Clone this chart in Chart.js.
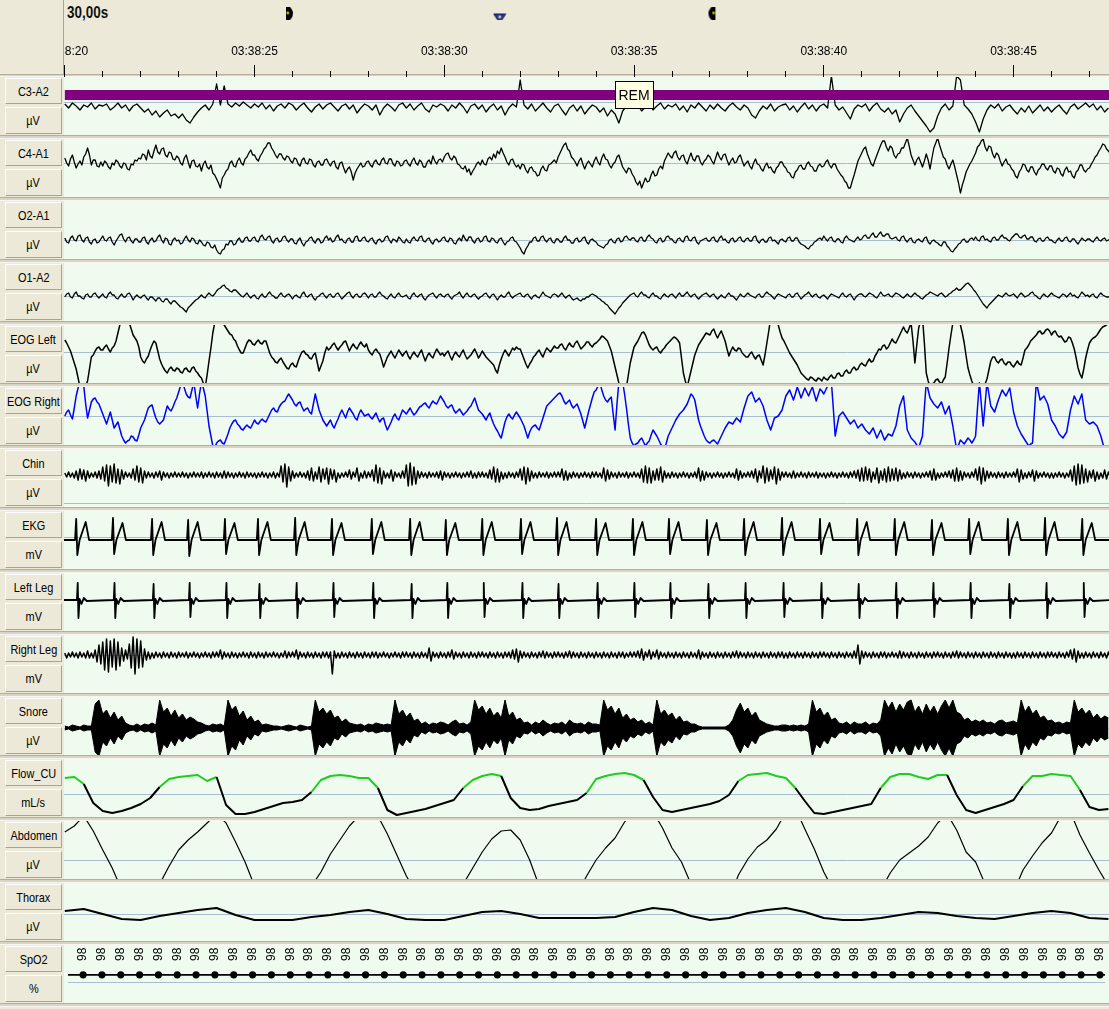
<!DOCTYPE html>
<html>
<head>
<meta charset="utf-8">
<title>PSG 30 s page</title>
<script src="https://cdn.jsdelivr.net/npm/chart.js@4.4.1/dist/chart.umd.min.js"></script>
<style>
  html, body { margin: 0; padding: 0; }
  body {
    width: 1109px; height: 1009px; overflow: hidden; position: relative;
    background: #ECE9D8;
    font-family: 'Liberation Sans', Arial, sans-serif;
  }
  .box {
    position: absolute; left: 5px; width: 57px; box-sizing: border-box;
    background: #ECE9D8; border: 1px solid; border-color: #FFFFFF #A7A391 #A7A391 #FFFFFF;
    font-size: 13px; color: #000; display: flex; align-items: center; justify-content: center;
    white-space: nowrap; overflow: hidden;
  }
  .box span { display: inline-block; transform: scaleX(0.84); }
  .sep {
    position: absolute; left: 0; width: 1109px; height: 4px; box-sizing: border-box;
    background: #D9D5C5; border-top: 1px solid #B3AF9F; border-bottom: 1px solid #F7F5EE;
  }
  .vline { position: absolute; left: 63px; top: 0; width: 1px; height: 77px; background: #A9A594; }
  #epoch {
    position: absolute; left: 67px; top: 4px; font-weight: bold; font-size: 16px; color: #111;
    transform: scaleX(0.84); transform-origin: left center;
  }
</style>
</head>
<body>
<div id="epoch"></div>
<div class="vline"></div>
<script>
// ---------------- time base ----------------
const X_MIN = -0.021;                 // seconds after 03:38:20 at the left edge of the traces
const X_MAX = 27.515;                 // seconds at the right edge
const EPOCH_LABEL = '30,00s';
const TICK_SECONDS = [0,1,2,3,4,5,6,7,8,9,10,11,12,13,14,15,16,17,18,19,20,21,22,23,24,25,26,27];
const CLOCK_LABELS = ['03:38:20','03:38:25','03:38:30','03:38:35','03:38:40','03:38:45'];
const CURSOR_TIMES = [5.80, 11.43, 17.11];   // page cursors: start mark, current, end mark

// hypnogram stage for this epoch
const STAGE_EPOCH = { start: 0, end: 30, stage: 'REM' };

// ---------------- EEG (µV) ----------------
const C3_DT = 0.1;
const c3a2 = [
  -2,-6,-1,-4,-8,-3,-5,-1,-7,-3, -4,-2,-8,-5,-1,-6,-3,-9,-4,-2, -6,-10,-7,-13,-9,-15,-11,-8,-14,-12,
  -16,-12,-18,-21,-15,-10,-6,-3,-8,-2, 18,-3,16,-2,-5,-1,-4,0,-3,-6, -2,-5,-1,-7,-3,-9,-4,-2,-6,-1,
  -3,-8,-4,-1,-6,-10,-5,-2,-7,-3, -1,-5,-9,-4,-2,-7,-3,-11,-6,-2, -4,-8,-3,-13,-6,-2,-5,-9,-3,-1,
  -6,-2,-8,-4,-1,-7,-10,-3,-5,-2, -4,-9,-3,-6,-1,-5,-11,-4,-2,-7, -3,-10,-5,-2,-8,-4,-13,-6,-2,-5,
  22,-3,-7,-2,-9,-5,-1,-6,-10,-4, -2,-8,-13,-6,-3,-9,-4,-12,-7,-3, -5,-10,-6,-14,-8,-12,-21,-9,-4,-2,
  -6,-3,-9,-5,-2,-8,-4,-1,-7,-3, -5,-2,-8,-4,-10,-3,-6,-1,-5,-9, -3,-7,-2,-6,-9,-4,-1,-5,-8,-3,
  -6,-13,-16,-9,-4,-7,-2,-9,-5,-3, -2,-8,-4,-10,-5,-1,-7,-3,-9,-4, -2,-6,26,-3,-8,-5,-11,-17,-7,-3,
  -5,-2,-9,-4,-1,-7,-10,-6,-12,-8, -20,-12,-6,-3,-9,-14,-19,-24,-30,-26, -14,-6,-2,-8,-4,26,22,-3,-7,-12,
  -20,-30,-17,-8,-3,-6,-2,-9,-5,-3, -8,-12,-6,-10,-4,-11,-7,-3,-9,-5, -10,-6,-3,-8,-12,-5,-2,-7,-4,-1,
  -5,-2,-8,-4,-10,-6
];
const FAST_DT = 0.05;
const c4a1 = [
  5,0,-3,4,8,1,-5,-1,2,-2,6,9,15,8,-2,3,3,-3,-4,1,
  -3,2,0,-4,-6,0,-2,3,1,-3,-5,0,-1,-6,-7,-1,-2,3,2,5,
  4,9,8,3,13,7,5,12,18,11,9,14,15,8,6,11,10,4,3,7,
  5,0,-2,5,8,1,-5,2,3,-3,-4,-1,-8,-1,2,-4,-6,-2,-10,-12,
  -16,-20,-25,-15,-12,-8,-6,0,2,-3,-4,2,5,0,-2,4,6,10,13,8,
  8,4,2,7,10,14,16,20,20,15,12,8,5,9,9,5,3,7,6,2,
  0,5,4,-1,-3,3,5,0,-1,4,3,-2,-4,1,2,-2,-2,3,4,0,
  -3,1,2,-4,-6,0,1,-5,-10,-6,-4,-9,-17,-10,-6,-3,0,-4,-3,1,
  2,-2,-4,1,3,-1,-2,3,5,0,-1,4,4,-1,-3,2,1,-3,-2,2,
  3,-1,-3,2,5,0,-2,3,1,-4,-4,1,3,-1,7,2,-1,3,4,1,
  6,9,10,5,3,7,5,-1,-2,-5,-6,-3,-9,-6,-12,-8,-5,-1,1,-2,
  3,-1,-2,4,6,3,9,5,12,9,15,10,6,1,-2,3,4,-1,-4,-2,
  -6,-1,-2,-7,-10,-5,-4,-8,-9,-13,-12,-6,-3,-7,-8,-2,-1,1,3,0,
  6,10,14,18,20,14,12,6,4,1,-3,2,5,-1,-6,-1,2,-1,-4,2,
  6,1,-2,5,9,4,3,-2,-5,-1,1,6,8,2,-4,-7,-10,-5,-6,-11,
  -14,-19,-22,-18,-25,-20,-15,-19,-18,-12,-8,-13,-12,-6,-3,-6,2,6,10,7,
  5,10,12,6,3,7,8,2,-1,5,10,4,2,7,7,1,-2,2,4,8,
  6,2,-1,5,11,6,3,8,9,3,-2,2,5,0,1,6,8,2,-3,0,
  2,-3,-6,0,4,-1,-2,-6,-8,-3,0,-5,-4,-8,-10,-5,-3,1,1,-3,
  -5,-9,-10,-14,-15,-9,-7,-3,-2,-6,-6,-1,1,-3,-4,-8,-8,-3,-1,-4,
  -3,1,3,-2,-5,-1,-1,-6,-9,-12,-14,-18,-20,-25,-25,-18,-12,-5,2,6,
  10,14,16,9,4,-1,-3,3,8,13,18,22,22,16,12,17,15,8,5,9,
  10,15,15,20,25,17,8,3,-2,3,6,1,-4,2,9,3,-6,5,15,20,
  25,18,12,6,4,-2,-6,-1,3,-4,-12,-20,-30,-22,-16,-9,-5,-1,2,6,
  10,16,18,22,24,16,12,17,16,9,5,10,8,2,-3,1,4,-1,-2,-6,
  -8,-13,-15,-9,-6,-1,-2,-7,-9,-4,-4,-9,-12,-7,-5,-1,-1,-5,-7,-3,
  -3,-8,-10,-5,-6,-11,-13,-7,-4,-9,-8,-13,-15,-9,-7,-2,-2,-7,-9,-6,
  -5,-1,2,6,8,12,15,19,18,14,12,9
];
const o2a1 = [
  2,-2,-3,2,4,0,-1,4,5,0,-2,2,3,-2,-4,0,1,-3,-2,1,
  4,0,-1,2,3,-2,-5,-1,2,5,6,1,-2,2,3,-1,-3,1,1,-2,
  -2,2,3,-2,-4,0,2,-2,-1,3,5,0,-3,2,1,-4,-5,0,2,-1,
  0,-4,-3,1,4,0,-2,2,1,-3,-4,0,-2,-5,-6,-2,-3,-7,-8,-5,
  -10,-13,-14,-10,-9,-4,-5,-1,-1,-5,-4,0,2,-2,-2,2,3,-1,-1,2,
  3,-1,-2,3,5,1,0,3,4,-1,-3,1,2,-2,-1,3,4,0,-2,1,
  1,-3,-4,0,2,-3,-6,-2,-1,2,3,-1,-3,1,1,-3,-2,2,4,0,
  2,-2,-1,3,5,0,1,-2,-3,1,2,-2,-2,3,4,-1,-1,2,3,-1,
  -2,1,2,-2,-4,0,1,-2,-1,3,4,0,-3,1,0,-2,3,1,-2,-3,
  1,-2,-3,1,3,0,-1,3,4,-1,-2,1,2,-2,-4,0,1,-2,-1,2,
  3,-1,-2,2,1,-3,-4,0,2,-1,5,1,-1,3,3,-1,-3,1,2,-2,
  -1,3,4,-1,-2,2,1,-2,-3,1,2,-2,-5,-2,-1,2,3,-1,-2,-5,
  -8,-12,-14,-9,-6,-2,-2,2,3,-1,-1,3,4,0,-2,1,2,-2,-3,1,
  1,-2,-2,2,4,0,0,-3,-3,1,2,-2,-1,2,3,-2,-4,0,1,-1,
  -2,-5,-6,-7,-8,-5,-4,0,1,-2,-3,1,2,-2,-1,3,4,1,0,2,
  2,-1,-2,2,3,-1,-1,3,5,2,1,-2,-3,1,2,-2,-1,3,4,1,
  1,-2,-3,1,2,-1,-2,3,4,0,-1,2,3,-2,-4,-1,0,1,2,-1,
  -1,2,3,-1,-2,2,4,0,1,-2,-3,1,2,-2,-1,2,3,-1,-2,1,
  2,-1,-1,3,4,-1,-3,0,1,-2,-2,2,3,-1,0,-2,-4,0,1,-1,
  -2,2,3,-1,-1,2,2,-2,-4,-5,-6,-8,-9,-6,-5,-2,-1,1,2,0,
  4,1,-1,2,3,-1,-2,1,1,-2,-3,2,4,1,0,-1,-2,1,3,0,
  1,4,5,2,2,5,7,3,3,6,8,4,4,6,6,2,1,2,3,0,
  -1,3,4,0,-2,1,2,-2,-3,0,1,-1,-2,2,3,-2,-4,-1,0,-2,
  -3,-5,-6,-2,-2,-6,-8,-11,-12,-9,-7,-4,-3,0,1,-2,-2,1,2,0,
  3,0,-1,3,4,0,1,-1,-2,2,3,0,0,3,5,2,2,0,-1,2,
  4,6,6,3,2,4,5,1,1,3,3,-1,-2,1,2,-1,-1,2,3,0,
  0,-2,-3,0,2,-1,-1,2,3,-1,-2,1,1,-2,-4,-1,2,0,-1,1,
  1,-1,-2,1,3,0,-1,1,2,-1,0,1
];
const o1a2 = [
  -1,2,3,-1,-2,2,4,0,0,-2,-3,1,2,-1,-1,2,3,0,-2,0,
  2,-1,-2,2,4,1,1,-2,-3,0,2,-1,-1,2,3,0,-4,-1,1,-1,
  -2,0,1,-2,-4,-1,-1,-3,-5,-2,-2,-5,-6,-3,-3,-6,-8,-5,-5,-7,
  -9,-11,-12,-14,-16,-12,-10,-8,-6,-4,-3,-1,1,-1,-2,1,3,1,0,2,
  5,7,8,10,11,8,7,5,4,6,6,4,2,0,-1,1,3,0,-2,0,
  1,-2,-3,0,2,-1,-1,2,4,1,0,-2,-2,1,3,0,-1,1,2,0,
  -3,0,1,-1,-2,2,4,0,-1,1,2,-2,-4,-1,0,2,3,0,-2,1,
  2,-1,-1,2,3,0,-3,-1,1,3,4,0,-2,1,2,-1,-1,2,3,1,
  -2,1,2,-1,-1,2,4,1,0,-2,-3,0,2,-1,-2,1,3,0,-1,0,
  1,-2,-3,1,3,0,-1,1,2,-2,-4,-1,1,2,3,0,-2,1,2,0,
  -1,1,2,-1,-3,0,1,2,4,0,-2,1,3,0,-1,1,2,-1,-3,-1,
  0,2,3,0,-2,1,2,-1,-4,-1,1,-1,-1,2,4,0,-2,0,1,2,
  3,0,-1,1,2,-1,-3,0,1,-1,-2,1,4,1,0,-1,-2,1,2,1,
  -1,1,3,0,-2,0,1,-2,-4,-3,-2,-4,-5,-3,-3,-1,-1,1,2,1,
  0,-2,-3,-5,-6,-8,-9,-12,-14,-16,-18,-15,-12,-10,-7,-5,-3,-1,1,2,
  3,0,-1,2,4,1,1,-1,-2,1,3,0,0,-2,-3,0,2,0,-1,1,
  2,0,-2,1,3,0,0,2,4,1,-1,1,2,-1,-3,-1,1,2,3,1,
  -1,1,2,-1,-3,-1,1,-1,-2,1,3,0,0,-2,-4,-1,2,0,-1,1,
  3,1,0,-1,-2,1,2,-1,-1,2,4,2,1,-1,-3,0,2,1,0,-1,
  -2,1,2,-1,-1,2,3,0,-3,-1,1,2,4,1,-1,1,2,-1,-2,0,
  1,-1,-3,0,2,1,0,-1,-2,1,3,0,-1,1,2,-1,-4,-1,1,2,
  2,0,-1,1,3,2,1,-1,-2,1,4,1,0,1,2,0,-1,1,3,2,
  1,-1,-2,0,2,0,-1,1,3,1,0,-2,-3,-1,1,2,4,3,2,1,
  0,2,3,1,-1,0,2,3,5,6,8,6,6,8,10,12,13,11,9,6,
  4,1,-2,-5,-8,-10,-12,-9,-7,-5,-3,-1,1,0,-1,1,3,1,0,1,
  2,0,-2,1,3,1,-1,0,1,3,4,1,0,-2,-3,0,2,0,-1,1,
  3,1,0,-1,-2,0,2,1,-1,1,3,0,1,-1,-2,1,4,2,0,1,
  -1,1,2,-1,-2,1,3,1,0,-1,-1,0
];

// ---------------- EOG (µV) ----------------
const eogLeft = [
  13,10,6,2,-4,-10,-16,-25,-34,-38,-36,-33,-28,-16,-4,-2,2,5,6,3,
  3,6,8,4,1,5,7,12,20,28,35,38,36,33,30,24,18,15,12,6,
  -4,-8,-10,-6,-3,3,8,12,10,2,-6,-11,-15,-18,-20,-16,-14,-17,-18,-15,
  -16,-19,-20,-16,-15,-18,-19,-15,-14,-18,-20,-23,-25,-30,-34,-22,-8,5,20,30,
  36,35,33,30,28,25,22,19,18,14,12,7,3,0,0,5,10,13,12,9,
  8,11,13,10,9,12,12,6,0,-4,-6,-9,-10,-7,-5,-9,-12,-15,-16,-12,
  -10,-13,-14,-8,-3,1,2,-1,-2,-5,-6,-2,0,-9,-18,-13,-8,0,6,3,
  5,8,10,6,3,6,8,11,12,7,2,6,9,6,4,8,11,8,6,9,
  3,0,-2,2,4,1,-1,-7,-14,-9,-4,-1,2,-2,-5,-1,3,0,-3,0,
  2,-3,-6,-2,1,-2,-4,0,3,-3,-8,-3,0,-3,-5,0,4,1,-2,0,
  -3,0,2,-3,-7,-2,1,-2,-4,0,3,-2,-6,-4,-2,1,4,0,-5,-2,
  2,-1,-4,-6,-8,-10,-12,-17,-20,-12,-6,-1,3,0,-3,1,5,3,6,4,
  4,-1,-6,-11,-15,-11,-8,-4,-2,1,3,-1,-4,1,5,3,1,4,7,5,
  5,8,9,5,3,7,10,7,6,10,12,8,4,6,8,11,11,8,6,9,
  10,12,14,17,16,14,12,7,2,-6,-14,-22,-30,-34,-36,-36,-34,-22,-10,-2,
  6,9,12,16,20,21,18,13,8,5,3,5,6,2,0,3,5,8,10,12,
  14,16,15,13,10,-5,-20,-28,-34,-26,-18,-10,-2,3,8,11,14,17,20,19,
  18,22,24,19,15,19,22,17,12,4,-3,2,6,3,2,5,4,0,-2,-4,
  -4,-1,1,-3,-6,-3,-2,-7,-12,-2,10,22,35,37,36,33,28,21,15,12,
  8,4,0,-3,-6,-9,-12,-16,-20,-22,-24,-26,-27,-24,-25,-27,-28,-25,-26,-28,
  -24,-26,-27,-24,-22,-25,-25,-21,-20,-23,-23,-19,-17,-20,-20,-16,-14,-17,-16,-12,
  -10,-12,-13,-9,-6,-9,-8,-3,0,4,3,7,8,4,6,10,14,11,10,14,
  18,22,26,22,20,25,30,12,-10,8,25,32,36,10,-20,-28,-34,-31,-30,-27,
  -26,-29,-31,-27,-24,-10,5,18,30,34,36,33,28,20,10,-3,-15,-22,-28,-33,
  -36,-33,-30,-33,-34,-31,-26,-17,-8,-4,-4,-8,-10,-7,-6,-10,-12,-9,-9,-12,
  -14,-11,-8,-11,-12,-5,3,5,8,12,14,16,18,21,22,19,20,23,24,22,
  18,21,22,18,16,17,14,11,12,16,15,10,4,-5,-15,-21,-25,-16,-5,3,
  10,13,15,16,18,21,24,26,27,28,30,32
];
const eogRight = [
  0,4,6,1,-3,8,20,28,34,36,30,12,-2,6,14,17,18,14,12,7,
  2,-3,-8,-2,4,-4,-12,-9,-6,-13,-20,-24,-27,-25,-24,-20,-21,-24,-25,-19,
  -12,-8,-4,2,8,10,11,4,-2,-6,-8,-6,-4,3,10,7,5,9,14,18,
  24,30,34,28,22,19,18,26,34,20,8,22,34,28,20,5,-10,-20,-30,-32,
  -27,-25,-24,-27,-28,-23,-18,-12,-8,-5,-4,-8,-10,-13,-14,-11,-9,-11,-12,-8,
  -4,-7,-8,-5,-3,-5,-6,-2,2,6,8,5,4,9,12,14,15,19,22,19,
  16,12,10,13,14,9,5,7,8,4,2,12,22,14,6,1,-4,-7,-10,-7,
  -4,-9,-12,-7,-3,2,6,2,-2,4,8,5,2,-2,-4,2,6,3,0,1,
  2,-1,-3,0,3,-2,-6,-3,-2,-9,-14,-10,-6,-1,2,-2,-4,1,6,4,
  2,5,8,4,1,3,6,9,10,12,13,10,8,12,15,13,12,16,20,17,
  14,10,8,10,11,6,3,5,7,4,1,3,5,8,10,14,18,12,6,4,
  2,-1,-4,0,3,-3,-8,-12,-15,-19,-22,-14,-6,-1,2,-1,-3,1,4,1,
  -2,-6,-10,-16,-22,-16,-12,-10,-9,-12,-14,-8,-2,4,10,12,14,16,18,20,
  22,23,20,15,12,14,16,11,8,10,12,7,2,-5,-12,-4,4,11,18,24,
  26,30,34,26,20,16,14,17,19,2,-14,12,34,36,34,22,8,-8,-22,-27,
  -30,-28,-27,-24,-22,-26,-30,-27,-25,-19,-14,-17,-20,-24,-28,-31,-34,-27,-20,-16,
  -12,-8,-4,-1,2,4,6,9,12,17,22,20,16,6,-4,-10,-15,-20,-24,-26,
  -27,-25,-24,-26,-28,-24,-20,-16,-12,-9,-6,-7,-8,-5,-2,-4,-6,1,8,14,
  20,22,24,19,14,16,18,14,10,3,-4,-9,-14,-8,-2,-1,0,3,6,13,
  20,23,26,21,16,22,29,24,18,23,28,24,20,25,29,22,15,21,27,25,
  22,26,30,33,34,8,-20,-10,0,2,4,1,-2,-5,-8,-6,-4,-8,-12,-10,
  -8,-11,-14,-16,-18,-15,-12,-17,-22,-18,-14,-19,-24,-21,-18,-19,-20,-15,-10,0,
  10,15,20,3,-14,-18,-22,-24,-26,-29,-32,-26,-20,8,34,26,18,15,12,10,
  8,11,14,8,2,6,10,0,-10,-22,-34,-29,-24,-26,-28,-25,-22,-24,-27,-24,
  -20,8,34,12,-10,12,34,22,10,7,4,10,16,21,26,23,20,24,28,16,
  4,-3,-10,-14,-18,-21,-24,-27,-30,-28,-27,4,34,25,16,18,20,16,12,4,
  -4,-7,-10,-14,-18,-20,-22,-19,-16,-5,6,13,20,16,12,17,22,9,-4,-6,
  -8,-7,-6,-8,-10,-15,-20,-27,-34,-36,-34,-34
];

// ---------------- EMG (µV / mV), 0.05 s samples ----------------
const CHIN_LEVEL = 28;
const chin = [
  2,-2,3,-2,2,-3,4,-5,6,-4,5,-6,4,-3,2,-2,3,-3,4,-4,
  8,-6,10,-11,9,-7,11,-8,6,-9,5,-4,3,-2,2,-3,6,-5,9,-7,
  7,-8,4,-3,3,-2,2,-3,3,-2,4,-5,3,-2,2,-3,2,-2,3,-2,
  2,-2,3,-2,2,-3,2,-2,3,-2,2,-2,3,-3,2,-2,3,-2,2,-3,
  3,-2,2,-3,4,-3,3,-2,2,-3,2,-2,3,-2,2,-3,3,-2,2,-2,
  2,-3,2,-2,3,-2,2,-3,2,-2,3,-3,2,-2,9,-7,11,-12,8,-6,
  4,-3,2,-2,3,-2,2,-3,4,-5,7,-6,3,-4,8,-7,6,-4,7,-9,
  6,-4,5,-7,2,-3,2,-2,3,-2,5,-4,3,-2,7,-6,2,-3,4,-3,
  3,-2,5,-6,10,-8,7,-9,4,-3,2,-3,5,-6,3,-2,2,-3,4,-3,
  10,-11,12,-10,8,-9,4,-3,3,-2,2,-3,3,-2,2,-2,3,-3,4,-5,
  3,-2,2,-3,2,-2,3,-2,2,-3,2,-2,3,-2,4,-3,2,-3,3,-2,
  3,-2,2,-3,5,-4,8,-7,6,-7,3,-4,2,-3,3,-2,2,-3,3,-2,
  6,-5,8,-9,7,-6,4,-3,2,-3,3,-2,2,-2,3,-3,2,-2,3,-2,
  3,-2,6,-5,4,-5,2,-3,3,-2,2,-3,2,-2,3,-2,2,-3,3,-2,
  3,-2,2,-3,7,-6,5,-4,3,-2,2,-3,3,-2,2,-2,3,-3,2,-2,
  3,-2,2,-3,6,-7,9,-8,7,-8,4,-5,6,-5,8,-7,4,-3,2,-3,
  3,-2,2,-3,2,-2,3,-2,2,-3,2,-2,3,-3,7,-6,4,-5,3,-2,
  2,-3,2,-2,3,-2,2,-3,2,-2,3,-2,2,-3,6,-5,4,-3,2,-2,
  3,-2,4,-3,6,-7,4,-3,9,-8,7,-6,5,-4,8,-9,6,-5,3,-2,
  3,-2,2,-3,4,-3,2,-2,3,-2,2,-3,3,-2,2,-2,3,-3,2,-2,
  2,-3,2,-2,3,-2,2,-3,2,-2,3,-2,2,-3,3,-2,4,-3,5,-6,
  7,-6,8,-5,6,-7,3,-4,7,-8,4,-5,6,-7,8,-6,6,-5,7,-6,
  5,-4,2,-3,3,-2,2,-3,3,-2,2,-3,2,-2,3,-2,4,-5,6,-5,
  2,-3,2,-2,3,-2,4,-3,5,-6,7,-6,4,-5,3,-2,2,-3,3,-2,
  6,-5,8,-9,7,-6,4,-3,3,-2,2,-3,3,-2,2,-3,3,-2,2,-2,
  3,-2,6,-7,5,-4,2,-3,3,-2,5,-6,4,-3,2,-2,3,-2,2,-3,
  2,-3,2,-2,3,-2,2,-3,2,-2,5,-6,9,-10,11,-9,10,-8,6,-7,
  4,-3,5,-6,3,-4,2,-3,5,-4,3,-2
];
const rightLeg = [
  2,-3,2,-2,3,-2,2,-3,3,-2,2,-3,4,-3,2,-3,5,-7,10,-9,
  13,-15,16,-17,14,-12,16,-15,13,-11,7,-6,5,-4,11,-13,18,-19,16,-13,
  14,-12,6,-5,3,-4,2,-3,3,-2,2,-3,3,-2,2,-3,3,-2,2,-3,
  3,-2,2,-2,3,-3,2,-2,3,-2,2,-3,2,-2,3,-2,2,-3,3,-2,
  3,-2,5,-4,3,-2,2,-3,3,-2,2,-3,2,-2,3,-2,2,-3,3,-2,
  2,-3,3,-2,2,-3,3,-2,2,-2,3,-2,2,-3,2,-2,4,-3,3,-2,
  3,-2,5,-4,3,-2,2,-3,3,-2,2,-3,3,-2,2,-3,3,-2,3,-3,
  3,-19,4,-3,2,-3,3,-2,2,-3,3,-2,2,-3,3,-2,2,-3,3,-2,
  2,-3,3,-2,3,-3,2,-2,3,-2,2,-3,2,-2,3,-2,2,-3,3,-2,
  3,-2,2,-3,3,-2,2,-3,3,-2,2,-3,7,-6,3,-2,2,-3,3,-2,
  2,-3,3,-2,5,-4,3,-2,2,-3,3,-2,2,-3,3,-2,2,-3,3,-2,
  3,-2,2,-3,3,-2,2,-3,3,-2,2,-3,3,-2,3,-3,5,-4,6,-7,
  4,-3,3,-2,2,-3,3,-2,2,-3,3,-2,4,-3,3,-2,2,-3,3,-2,
  3,-2,2,-3,3,-2,4,-3,3,-2,2,-3,3,-2,2,-3,3,-2,2,-3,
  3,-2,2,-3,3,-2,2,-3,3,-2,2,-3,3,-2,3,-3,2,-2,3,-2,
  3,-2,4,-3,6,-5,3,-2,5,-4,3,-2,5,-4,3,-2,2,-3,3,-2,
  2,-3,3,-2,2,-3,3,-2,2,-3,3,-2,2,-3,5,-4,3,-2,2,-3,
  3,-2,2,-3,3,-2,2,-3,3,-2,2,-3,3,-2,4,-3,3,-2,2,-3,
  3,-2,2,-3,3,-2,2,-3,3,-2,2,-3,3,-2,2,-3,3,-2,3,-3,
  2,-3,3,-2,2,-3,3,-2,2,-3,3,-2,2,-3,3,-2,2,-3,3,-2,
  3,-2,2,-3,3,-2,2,-3,3,-2,2,-3,3,-2,2,-3,4,-3,10,-9,
  4,-3,3,-2,2,-3,3,-2,2,-3,3,-2,3,-3,2,-2,3,-2,2,-3,
  4,-3,3,-2,2,-3,3,-2,2,-3,3,-2,2,-3,3,-2,2,-3,3,-2,
  3,-2,2,-3,3,-2,2,-3,3,-2,4,-3,3,-2,2,-3,3,-2,2,-3,
  3,-2,2,-3,3,-2,2,-3,3,-2,2,-3,3,-2,2,-3,3,-2,2,-3,
  2,-3,3,-2,2,-3,3,-2,2,-3,3,-2,2,-3,3,-2,2,-3,3,-2,
  3,-2,2,-3,3,-2,2,-3,3,-2,5,-4,6,-7,4,-3,2,-3,3,-2,
  2,-3,3,-2,2,-3,3,-2,2,-3,3,-2
];

// snore: burst envelope, 0.1 s, half peak-to-peak
const SNORE_DT = 0.1;
const snoreAmp = [
  2,1,3,2,1,3,2,2,24,28, 14,18,10,16,8,12,5,3,2,4, 2,4,3,5,3,28,16,20,12,18, 10,14,8,11,9,6,5,3,2,4,
  3,4,2,28,18,22,12,17,8,12, 6,8,3,4,3,2,2,1,2,3, 2,1,3,2,1,2,28,16,20,14, 18,10,12,6,9,5,4,3,4,2,
  4,3,5,4,3,4,3,28,14,18, 11,15,7,9,4,6,3,5,4,6, 5,3,6,8,4,5,3,6,28,18, 22,14,20,12,16,10,28,12,16,8,
  10,5,6,3,6,4,8,5,3,5, 4,6,3,8,5,4,5,3,6,4, 4,3,28,18,22,14,20,10,14,8, 10,6,8,4,6,3,28,14,18,12,
  15,8,12,6,7,4,4,2,1,1, 1,1,1,1,1,3,8,18,25,16, 20,12,16,8,6,4,3,2,2,3, 3,2,3,2,3,2,4,28,16,20,
  12,16,8,10,5,4,6,3,6,4, 4,6,3,5,4,8,28,20,26,16, 24,18,26,28,16,22,14,24,16,22, 14,22,28,20,28,16,14,8,10,6,
  8,6,8,5,6,4,7,8,5,6, 7,5,28,16,22,14,18,10,12,7, 8,5,6,4,6,5,28,16,20,14, 18,10,14,9,12,10
];

// ---------------- EKG and leg (time s, mV) ----------------
const ekgPoints = [
  [-0.1,-3],
  [0.27,-3],[0.30,18],[0.33,-18],[0.39,-3],[0.55,15],[0.64,-3],
  [1.24,-3],[1.27,19],[1.30,-17],[1.36,-3],[1.52,14],[1.61,-3],
  [2.27,-3],[2.30,18],[2.33,-18],[2.39,-3],[2.55,15],[2.64,-3],
  [3.22,-3],[3.25,17],[3.28,-19],[3.34,-3],[3.50,15],[3.59,-3],
  [4.19,-3],[4.22,18],[4.25,-17],[4.31,-3],[4.47,14],[4.56,-3],
  [5.06,-3],[5.09,18],[5.12,-18],[5.18,-3],[5.34,15],[5.43,-3],
  [6.04,-3],[6.07,19],[6.10,-18],[6.16,-3],[6.32,15],[6.41,-3],
  [7.01,-3],[7.04,18],[7.07,-18],[7.13,-3],[7.29,14],[7.38,-3],
  [8.06,-3],[8.09,18],[8.12,-17],[8.18,-3],[8.34,15],[8.43,-3],
  [9.07,-3],[9.10,18],[9.13,-18],[9.19,-3],[9.35,15],[9.44,-3],
  [10.01,-3],[10.04,17],[10.07,-18],[10.13,-3],[10.29,14],[10.38,-3],
  [10.97,-3],[11.00,18],[11.03,-18],[11.09,-3],[11.25,15],[11.34,-3],
  [11.99,-3],[12.02,18],[12.05,-17],[12.11,-3],[12.27,15],[12.36,-3],
  [12.94,-3],[12.97,19],[13.00,-18],[13.06,-3],[13.22,15],[13.31,-3],
  [13.97,-3],[14.00,18],[14.03,-18],[14.09,-3],[14.25,14],[14.34,-3],
  [14.94,-3],[14.97,18],[15.00,-18],[15.06,-3],[15.22,15],[15.31,-3],
  [15.89,-3],[15.92,18],[15.95,-17],[16.01,-3],[16.17,15],[16.26,-3],
  [16.89,-3],[16.92,17],[16.95,-18],[17.01,-3],[17.17,14],[17.26,-3],
  [17.87,-3],[17.90,18],[17.93,-18],[17.99,-3],[18.15,15],[18.24,-3],
  [18.87,-3],[18.90,19],[18.93,-18],[18.99,-3],[19.15,15],[19.24,-3],
  [19.87,-3],[19.90,18],[19.93,-17],[19.99,-3],[20.15,14],[20.24,-3],
  [20.85,-3],[20.88,18],[20.91,-18],[20.97,-3],[21.13,15],[21.22,-3],
  [21.84,-3],[21.87,18],[21.90,-18],[21.96,-3],[22.12,15],[22.21,-3],
  [22.82,-3],[22.85,17],[22.88,-18],[22.94,-3],[23.10,14],[23.19,-3],
  [23.80,-3],[23.83,18],[23.86,-17],[23.92,-3],[24.08,15],[24.17,-3],
  [24.82,-3],[24.85,18],[24.88,-18],[24.94,-3],[25.10,15],[25.19,-3],
  [25.80,-3],[25.83,19],[25.86,-18],[25.92,-3],[26.08,15],[26.17,-3],
  [26.78,-3],[26.81,18],[26.84,-18],[26.90,-3],[27.06,14],[27.15,-3],
  [27.6,-3]
];
const leftLegPoints = [
  [-0.1,0],
  [0.32,0],[0.34,17],[0.36,-18],[0.39,1],[0.44,-4],[0.50,2],[0.58,-1],
  [1.29,0],[1.31,17],[1.33,-18],[1.36,1],[1.41,-4],[1.47,2],[1.55,-1],
  [2.32,0],[2.34,16],[2.36,-18],[2.39,1],[2.44,-4],[2.50,2],[2.58,-1],
  [3.27,0],[3.29,17],[3.31,-17],[3.34,1],[3.39,-4],[3.45,2],[3.53,-1],
  [4.24,0],[4.26,17],[4.28,-18],[4.31,1],[4.36,-4],[4.42,2],[4.50,-1],
  [5.11,0],[5.13,16],[5.15,-18],[5.18,1],[5.23,-4],[5.29,2],[5.37,-1],
  [6.09,0],[6.11,17],[6.13,-18],[6.16,1],[6.21,-4],[6.27,2],[6.35,-1],
  [7.06,0],[7.08,17],[7.10,-17],[7.13,1],[7.18,-4],[7.24,2],[7.32,-1],
  [8.11,0],[8.13,17],[8.15,-18],[8.18,1],[8.23,-4],[8.29,2],[8.37,-1],
  [9.12,0],[9.14,16],[9.16,-18],[9.19,1],[9.24,-4],[9.30,2],[9.38,-1],
  [10.06,0],[10.08,17],[10.10,-18],[10.13,1],[10.18,-4],[10.24,2],[10.32,-1],
  [11.02,0],[11.04,17],[11.06,-17],[11.09,1],[11.14,-4],[11.20,2],[11.28,-1],
  [12.04,0],[12.06,17],[12.08,-18],[12.11,1],[12.16,-4],[12.22,2],[12.30,-1],
  [12.99,0],[13.01,16],[13.03,-18],[13.06,1],[13.11,-4],[13.17,2],[13.25,-1],
  [14.02,0],[14.04,17],[14.06,-18],[14.09,1],[14.14,-4],[14.20,2],[14.28,-1],
  [14.99,0],[15.01,17],[15.03,-17],[15.06,1],[15.11,-4],[15.17,2],[15.25,-1],
  [15.94,0],[15.96,17],[15.98,-18],[16.01,1],[16.06,-4],[16.12,2],[16.20,-1],
  [16.94,0],[16.96,16],[16.98,-18],[17.01,1],[17.06,-4],[17.12,2],[17.20,-1],
  [17.92,0],[17.94,17],[17.96,-18],[17.99,1],[18.04,-4],[18.10,2],[18.18,-1],
  [18.92,0],[18.94,17],[18.96,-17],[18.99,1],[19.04,-4],[19.10,2],[19.18,-1],
  [19.92,0],[19.94,17],[19.96,-18],[19.99,1],[20.04,-4],[20.10,2],[20.18,-1],
  [20.90,0],[20.92,16],[20.94,-18],[20.97,1],[21.02,-4],[21.08,2],[21.16,-1],
  [21.89,0],[21.91,17],[21.93,-18],[21.96,1],[22.01,-4],[22.07,2],[22.15,-1],
  [22.87,0],[22.89,17],[22.91,-17],[22.94,1],[22.99,-4],[23.05,2],[23.13,-1],
  [23.85,0],[23.87,17],[23.89,-18],[23.92,1],[23.97,-4],[24.03,2],[24.11,-1],
  [24.87,0],[24.89,16],[24.91,-18],[24.94,1],[24.99,-4],[25.05,2],[25.13,-1],
  [25.85,0],[25.87,17],[25.89,-18],[25.92,1],[25.97,-4],[26.03,2],[26.11,-1],
  [26.83,0],[26.85,17],[26.87,-17],[26.90,1],[26.95,-4],[27.01,2],[27.09,-1],
  [27.6,0]
];

// ---------------- respiration (0.25 s / 0.5 s samples) ----------------
const RESP_DT = 0.25;
const flowCU = [
  16,17,10,-9,-17,-19,-17,-14,-10,-4, 7,15,17,18,19,13,17,-11,-20,-20,
  -18,-15,-12,-9,-8,-6,2,14,18,19, 18,16,16,6,-16,-21,-19,-17,-15,-12,
  -9,-6,6,14,18,20,18,-4,-14,-16, -15,-12,-10,-8,-6,1,15,18,20,21,
  19,14,-3,-16,-18,-16,-14,-12,-10,-7, -1,13,19,20,21,18,16,6,-7,-19,
  -20,-18,-16,-14,-12,-10,6,17,20,20, 17,15,19,19,-1,-16,-19,-16,-13,-10,
  -6,8,18,18,20,19,18,4,-13,-16, -15
];
const abdomen = [
  28,34,44,29,10,-8,-30,-40,-42,-36, -24,-6,10,20,28,37,46,37,18,-2,
  -26,-38,-44,-46,-44,-38,-26,-12,6,20, 34,44,50,44,26,5,-16,-32,-42,-46,
  -44,-36,-24,-8,8,21,29,30,20,0, -26,-40,-46,-44,-34,-16,0,12,22,38,
  50,56,48,32,12,-2,-24,-38,-46,-48, -40,-15,1,13,20,31,48,52,31,11,
  -12,-30,-40,-46,-46,-40,-30,-13,0,7, 14,23,37,46,30,8,-2,-24,-36,-42,
  -32,-10,4,17,27,44,48,25,7,-10, -26
];
const THORAX_DT = 0.5;
const thorax = [
  3,5,0,-5,-6,-2,1,4,6,-1, -6,-6,-6,-3,-1,2,4,0,-5,-6,
  -6,-2,2,3,0,-4,-4,-4,-4,-3, 2,6,4,-2,-6,-4,1,4,6,2,
  -4,-6,-6,-4,-1,2,1,-2,-4,-5, -2,1,3,1,-4,-5
];

// ---------------- SpO2 (%), one reading every 0.5 s ----------------
const SPO2_DT = 0.5, SPO2_T0 = -0.12;
const spo2 = [
  98,98,98,98,98,98,98,98,98,98, 98,98,98,98,98,98,98,98,98,98,
  98,98,98,98,98,98,98,98,98,98, 98,98,98,98,98,98,98,98,98,98,
  98,98,98,98,98,98,98,98,98,98, 98,98,98,98,98,98,98
];

// ---------------- layout & style ----------------
const PLOT_LEFT = 64, PLOT_W = 1045;
const ROW_TOP0 = 77, ROW_PITCH = 62, ROW_H = 58;
const PLOT_BG = '#EFFBEF';
const BASE_COLOR = '#A8BDD0';
const FONT = "'Liberation Sans', Arial, sans-serif";

document.getElementById('epoch').textContent = EPOCH_LABEL;

const ROWS = [
  { name: 'C3-A2',     unit: 'µV',   yTop: 25 },
  { name: 'C4-A1',     unit: 'µV',   yTop: 24 },
  { name: 'O2-A1',     unit: 'µV',   yTop: 39 },
  { name: 'O1-A2',     unit: 'µV',   yTop: 33 },
  { name: 'EOG Left',  unit: 'µV',   yTop: 28 },
  { name: 'EOG Right', unit: 'µV',   yTop: 29 },
  { name: 'Chin',      unit: 'µV',   yTop: 54 },
  { name: 'EKG',       unit: 'mV',   yTop: 26 },
  { name: 'Left Leg',  unit: 'mV',   yTop: 27 },
  { name: 'Right Leg', unit: 'mV',   yTop: 20 },
  { name: 'Snore',     unit: 'µV',   yTop: 31 },
  { name: 'Flow_CU',   unit: 'mL/s', yTop: 35 },
  { name: 'Abdomen',   unit: 'µV',   yTop: 39 },
  { name: 'Thorax',    unit: 'µV',   yTop: 31 },
  { name: 'SpO2',      unit: '%',    yTop: null }
];

// label column and row separators
function labelBox(top, height, text) {
  const d = document.createElement('div');
  d.className = 'box'; d.style.top = top + 'px'; d.style.height = height + 'px';
  const s = document.createElement('span'); s.textContent = text; d.appendChild(s);
  return d;
}
ROWS.forEach((r, i) => {
  const top = ROW_TOP0 + i * ROW_PITCH;
  const s = document.createElement('div');
  s.className = 'sep'; s.style.top = (top + ROW_H) + 'px';
  document.body.append(labelBox(top + 1, 26, r.name), labelBox(top + 30, 27, r.unit), s);
});
const headSep = document.createElement('div');
headSep.className = 'sep'; headSep.style.top = (ROW_TOP0 - 3) + 'px'; headSep.style.height = '3px';
document.body.appendChild(headSep);

// ---------------- helpers ----------------
const uniform = (values, dt, t0 = 0, level = 0) => values.map((v, i) => ({ x: t0 + i * dt, y: level + v }));
const pairs = list => list.map(([x, y]) => ({ x, y }));
const trace = (data, color = '#000', width = 1.2) => ({
  data, borderColor: color, borderWidth: width, pointRadius: 0, fill: false, tension: 0,
  borderJoinStyle: 'round', order: 1
});
const envelope = (amp, dt, level) => [
  { data: amp.map((a, i) => ({ x: i * dt, y: level + a })), borderColor: '#000', borderWidth: 1,
    pointRadius: 0, fill: false, tension: 0, order: 1 },
  { data: amp.map((a, i) => ({ x: i * dt, y: level - a })), borderColor: '#000', borderWidth: 1,
    pointRadius: 0, fill: '-1', backgroundColor: '#000', tension: 0, order: 1 }
];

function rowChart(i, datasets, yMin, yMax, baseValue, plugins = []) {
  const top = ROW_TOP0 + i * ROW_PITCH;
  const c = document.createElement('canvas');
  c.width = PLOT_W; c.height = ROW_H;
  c.style.cssText = `position:absolute;left:${PLOT_LEFT}px;top:${top}px;width:${PLOT_W}px;height:${ROW_H}px;background:${PLOT_BG}`;
  document.body.appendChild(c);
  return new Chart(c, {
    type: 'line',
    data: { datasets },
    options: {
      responsive: false, animation: false, devicePixelRatio: 1, events: [],
      layout: { padding: 0 },
      plugins: { legend: { display: false }, tooltip: { enabled: false } },
      scales: {
        x: { type: 'linear', min: X_MIN, max: X_MAX, display: false },
        y: {
          type: 'linear', min: yMin, max: yMax, display: true,
          afterBuildTicks: s => { s.ticks = [{ value: baseValue }]; },
          afterFit: s => { s.width = 0; },
          ticks: { display: false },
          border: { display: false },
          grid: { color: BASE_COLOR, lineWidth: 1, drawTicks: false }
        }
      }
    },
    plugins
  });
}
const rangeOf = i => [ROWS[i].yTop - ROW_H, ROWS[i].yTop];

// ---------------- C3-A2 with stage band ----------------
const REM_LEVEL = 7;
const stageLabel = {
  id: 'stageLabel',
  afterDatasetsDraw(chart) {
    const { ctx, scales: { x, y } } = chart;
    const px = x.getPixelForValue((STAGE_EPOCH.start + STAGE_EPOCH.end) / 2);
    const py = y.getPixelForValue(REM_LEVEL);
    const w = 38, h = 27;
    ctx.save();
    ctx.fillStyle = '#FFFFE1';
    ctx.fillRect(Math.round(px - w / 2) + 0.5, Math.round(py - h / 2) + 0.5, w, h);
    ctx.strokeStyle = '#000'; ctx.lineWidth = 1;
    ctx.strokeRect(Math.round(px - w / 2) + 0.5, Math.round(py - h / 2) + 0.5, w, h);
    ctx.fillStyle = '#000'; ctx.font = "14px " + FONT;
    ctx.textAlign = 'center'; ctx.textBaseline = 'middle';
    ctx.fillText(STAGE_EPOCH.stage, px, py + 1);
    ctx.restore();
  }
};
{
  const [lo, hi] = rangeOf(0);
  rowChart(0, [
    { data: [{ x: STAGE_EPOCH.start, y: REM_LEVEL }, { x: STAGE_EPOCH.end, y: REM_LEVEL }],
      borderColor: '#800080', borderWidth: 10, pointRadius: 0, fill: false, order: 0, borderCapStyle: 'butt' },
    trace(uniform(c3a2, C3_DT), '#000', 1.3)
  ], lo, hi, 0, [stageLabel]);
}
{ const [lo, hi] = rangeOf(1); rowChart(1, [trace(uniform(c4a1, FAST_DT), '#000', 1.3)], lo, hi, 0); }
{ const [lo, hi] = rangeOf(2); rowChart(2, [trace(uniform(o2a1, FAST_DT), '#000', 1.3)], lo, hi, 0); }
{ const [lo, hi] = rangeOf(3); rowChart(3, [trace(uniform(o1a2, FAST_DT), '#000', 1.3)], lo, hi, 0); }
{ const [lo, hi] = rangeOf(4); rowChart(4, [trace(uniform(eogLeft, FAST_DT), '#000', 1.5)], lo, hi, 0); }
{ const [lo, hi] = rangeOf(5); rowChart(5, [trace(uniform(eogRight, FAST_DT), '#0000FF', 1.5)], lo, hi, 0); }
{ const [lo, hi] = rangeOf(6); rowChart(6, [trace(uniform(chin, FAST_DT, 0, CHIN_LEVEL), '#000', 1.5)], lo, hi, 0); }
{ const [lo, hi] = rangeOf(7); rowChart(7, [trace(pairs(ekgPoints), '#000', 1.8)], lo, hi, 0); }
{ const [lo, hi] = rangeOf(8); rowChart(8, [trace(pairs(leftLegPoints), '#000', 1.8)], lo, hi, 0); }
{ const [lo, hi] = rangeOf(9); rowChart(9, [trace(uniform(rightLeg, FAST_DT), '#000', 1.5)], lo, hi, 0); }
{ const [lo, hi] = rangeOf(10); rowChart(10, envelope(snoreAmp, SNORE_DT, 0), lo, hi, 0); }
{
  const [lo, hi] = rangeOf(11);
  const ds = trace(uniform(flowCU, RESP_DT), '#000', 2);
  ds.segment = { borderColor: ctx => (ctx.p0.parsed.y >= 0 && ctx.p1.parsed.y >= 0) ? '#1FCC1F' : '#000' };
  rowChart(11, [ds], lo, hi, 0);
}
{ const [lo, hi] = rangeOf(12); rowChart(12, [trace(uniform(abdomen, RESP_DT), '#000', 1.2)], lo, hi, 0); }
{ const [lo, hi] = rangeOf(13); rowChart(13, [trace(uniform(thorax, THORAX_DT), '#000', 2)], lo, hi, 0); }

// ---------------- SpO2 with value tags ----------------
const valueTags = {
  id: 'valueTags',
  afterDatasetsDraw(chart) {
    const meta = chart.getDatasetMeta(0);
    const data = chart.data.datasets[0].data;
    const { ctx, chartArea } = chart;
    ctx.save();
    ctx.font = "12px " + FONT;
    ctx.fillStyle = '#000'; ctx.textAlign = 'center'; ctx.textBaseline = 'middle';
    meta.data.forEach((pt, i) => {
      if (pt.x < chartArea.left || pt.x > chartArea.right) return;
      ctx.save();
      ctx.translate(pt.x, pt.y - 20.5);
      ctx.rotate(-Math.PI / 2);
      ctx.fillText(String(data[i].y), 0, 0);
      ctx.restore();
    });
    ctx.restore();
  }
};
{
  const PX_PER_PCT = 9;
  const hi = 97 + 39 / PX_PER_PCT, lo = hi - ROW_H / PX_PER_PCT;
  const ds = trace(uniform(spo2, SPO2_DT, SPO2_T0), '#000', 1.6);
  ds.pointRadius = 3.6; ds.pointBackgroundColor = '#000'; ds.pointBorderWidth = 0;
  rowChart(14, [ds], lo, hi, 97, [valueTags]);
}

// ---------------- header: time axis ----------------
{
  const c = document.createElement('canvas');
  c.width = PLOT_W; c.height = ROW_TOP0 + 1;
  c.style.cssText = `position:absolute;left:${PLOT_LEFT}px;top:0;width:${PLOT_W}px;height:${ROW_TOP0 + 1}px`;
  document.body.appendChild(c);
  new Chart(c, {
    type: 'line',
    data: { datasets: [] },
    options: {
      responsive: false, animation: false, devicePixelRatio: 1, events: [],
      layout: { padding: 0 },
      plugins: { legend: { display: false }, tooltip: { enabled: false } },
      scales: {
        x: {
          type: 'linear', position: 'top', min: X_MIN, max: X_MAX,
          afterBuildTicks: s => { s.ticks = TICK_SECONDS.map(v => ({ value: v })); },
          afterFit: s => { s.height = ROW_TOP0; s.paddingLeft = 0; s.paddingRight = 0; },
          ticks: {
            autoSkip: false, maxRotation: 0, padding: 6, color: '#000',
            font: { family: FONT, size: 12 },
            callback: v => (v % 5 === 0 ? CLOCK_LABELS[v / 5] : '')
          },
          grid: {
            drawOnChartArea: false, tickLength: 12, tickColor: '#000', tickWidth: 1,
            tickBorderDash: ctx => (ctx.tick && ctx.tick.value % 5 !== 0) ? [0, 6, 6, 0] : []
          },
          border: { display: false }
        },
        y: { display: false }
      }
    }
  });
}

// ---------------- header: page cursors ----------------
function cursorImage(kind) {
  const c = document.createElement('canvas');
  c.width = 14; c.height = 26;
  const g = c.getContext('2d');
  if (kind === 'tri') {
    g.beginPath(); g.moveTo(1, 13.5); g.lineTo(13, 13.5); g.lineTo(7, 22.5); g.closePath();
    g.fillStyle = '#24349A'; g.fill(); g.strokeStyle = '#0E1A66'; g.lineWidth = 1; g.stroke();
    g.beginPath(); g.arc(7, 16.5, 1.4, 0, Math.PI * 2); g.fillStyle = '#E8E060'; g.fill();
  } else {
    const m = kind === 'left' ? (x => 14 - x) : (x => x);
    g.beginPath(); g.moveTo(m(4), 3); g.lineTo(m(4), 23);
    g.quadraticCurveTo(m(11), 18, m(11), 13);
    g.quadraticCurveTo(m(11), 8, m(4), 3); g.closePath();
    g.fillStyle = '#000'; g.fill();
    g.beginPath(); g.arc(m(5.8), 12.5, 1.4, 0, Math.PI * 2); g.fillStyle = '#C8C000'; g.fill();
  }
  return c;
}
{
  const c = document.createElement('canvas');
  c.width = PLOT_W; c.height = 27;
  c.style.cssText = `position:absolute;left:${PLOT_LEFT}px;top:0;width:${PLOT_W}px;height:27px`;
  document.body.appendChild(c);
  const kinds = ['right', 'tri', 'left'];
  new Chart(c, {
    type: 'line',
    data: {
      datasets: CURSOR_TIMES.map((t, i) => ({
        data: [{ x: t, y: 0 }], showLine: false, pointRadius: 6, pointStyle: cursorImage(kinds[i])
      }))
    },
    options: {
      responsive: false, animation: false, devicePixelRatio: 1, events: [],
      layout: { padding: 0 },
      plugins: { legend: { display: false }, tooltip: { enabled: false } },
      scales: {
        x: { type: 'linear', min: X_MIN, max: X_MAX, display: false },
        y: { type: 'linear', min: -1, max: 1, display: false }
      }
    }
  });
}
</script>
</body>
</html>
